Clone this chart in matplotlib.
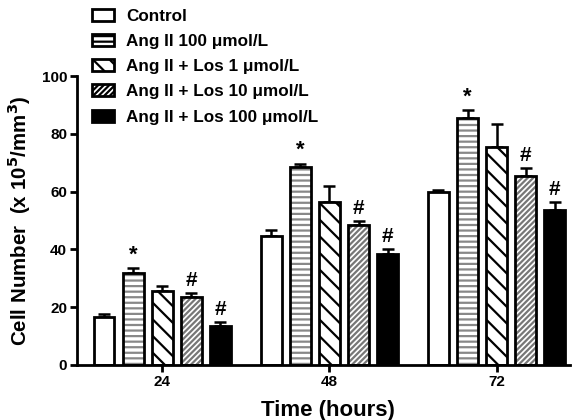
import numpy as np
import matplotlib
matplotlib.use("Agg")
import matplotlib.pyplot as plt
from matplotlib.patches import Patch

plt.rcParams['font.family'] = ['Liberation Sans', 'DejaVu Sans']
plt.rcParams['font.weight'] = 'bold'
plt.rcParams['mathtext.default'] = 'bf'
plt.rcParams['hatch.linewidth'] = 1.6

times = ['24', '48', '72']
groups = ['Control', 'Ang II 100 \u03bcmol/L', 'Ang II + Los 1 \u03bcmol/L',
          'Ang II + Los 10 \u03bcmol/L', 'Ang II + Los 100 \u03bcmol/L']
means = [
    [16.5, 44.8, 59.8],   # Control
    [32.0, 68.5, 85.5],   # Ang II 100
    [25.5, 56.5, 75.5],   # Los 1
    [23.5, 48.5, 65.5],   # Los 10
    [13.5, 38.5, 53.5],   # Los 100
]
errs = [
    [1.2, 2.0, 0.8],
    [1.4, 1.2, 2.7],
    [1.8, 5.5, 8.0],
    [1.4, 1.5, 2.6],
    [1.3, 1.8, 2.9],
]
marks = [
    ['', '', ''],
    ['*', '*', '*'],
    ['', '', ''],
    ['#', '#', '#'],
    ['#', '#', '#'],
]

faces = ['white', 'white', 'white', 'white', 'black']
hatches = [None, '---', '\\\\', '//////', None]
hcolors = ['black', '#888888', 'black', '#777777', 'black']

fig = plt.figure(figsize=(5.83, 4.20), dpi=100)
ax = fig.add_axes([0.132, 0.131, 0.846, 0.688])

x = np.arange(len(times)) * 1.0
width = 0.125
step = 0.174
for i in range(len(groups)):
    pos = x + (i - 2) * step
    if hatches[i]:
        ax.bar(pos, means[i], width, color=faces[i], edgecolor=hcolors[i],
               hatch=hatches[i], linewidth=0, zorder=2)
    else:
        ax.bar(pos, means[i], width, color=faces[i], linewidth=0, zorder=2)
    ax.bar(pos, means[i], width, fill=False, edgecolor='black', linewidth=2, zorder=3)
    ax.errorbar(pos, means[i], yerr=[np.zeros(3), errs[i]], fmt='none',
                ecolor='black', elinewidth=1.8, capsize=4, capthick=1.8, zorder=1)
    for j in range(len(times)):
        if marks[i][j]:
            fs = 16 if marks[i][j] == '*' else 15
            ax.text(pos[j], means[i][j] + errs[i][j] + 1.0, marks[i][j],
                    ha='center', va='bottom', fontsize=fs, fontweight='bold')

ax.set_ylim(0, 100)
ax.set_xlim(-0.51, 2.44)
ax.set_yticks([0, 20, 40, 60, 80, 100])
ax.set_xticks(x)
ax.set_xticklabels(times)
ax.tick_params(axis='both', width=2, length=5, labelsize=11, pad=2)
for s in ['top', 'right']:
    ax.spines[s].set_visible(False)
for s in ['left', 'bottom']:
    ax.spines[s].set_linewidth(2)

ax.set_ylabel('Cell Number  (x 10$^5$/mm$^3$)', fontsize=14.8,
              fontweight='bold')
ax.yaxis.set_label_coords(-0.09, 0.5)
fig.text(0.562, 4 / 420, 'Time (hours)', fontsize=16, fontweight='bold',
         ha='center', va='baseline')

handles = []
for i in range(len(groups)):
    handles.append(Patch(facecolor=faces[i], edgecolor='black', hatch=hatches[i],
                         linewidth=2))
fig.legend(handles, groups, loc='upper left', bbox_to_anchor=(0.143, 1.0),
           frameon=False, fontsize=12.3, handlelength=1.3, handleheight=0.7,
           labelspacing=0.6, handletextpad=0.7, borderaxespad=0.1)

fig.savefig('out.png', dpi=100)
